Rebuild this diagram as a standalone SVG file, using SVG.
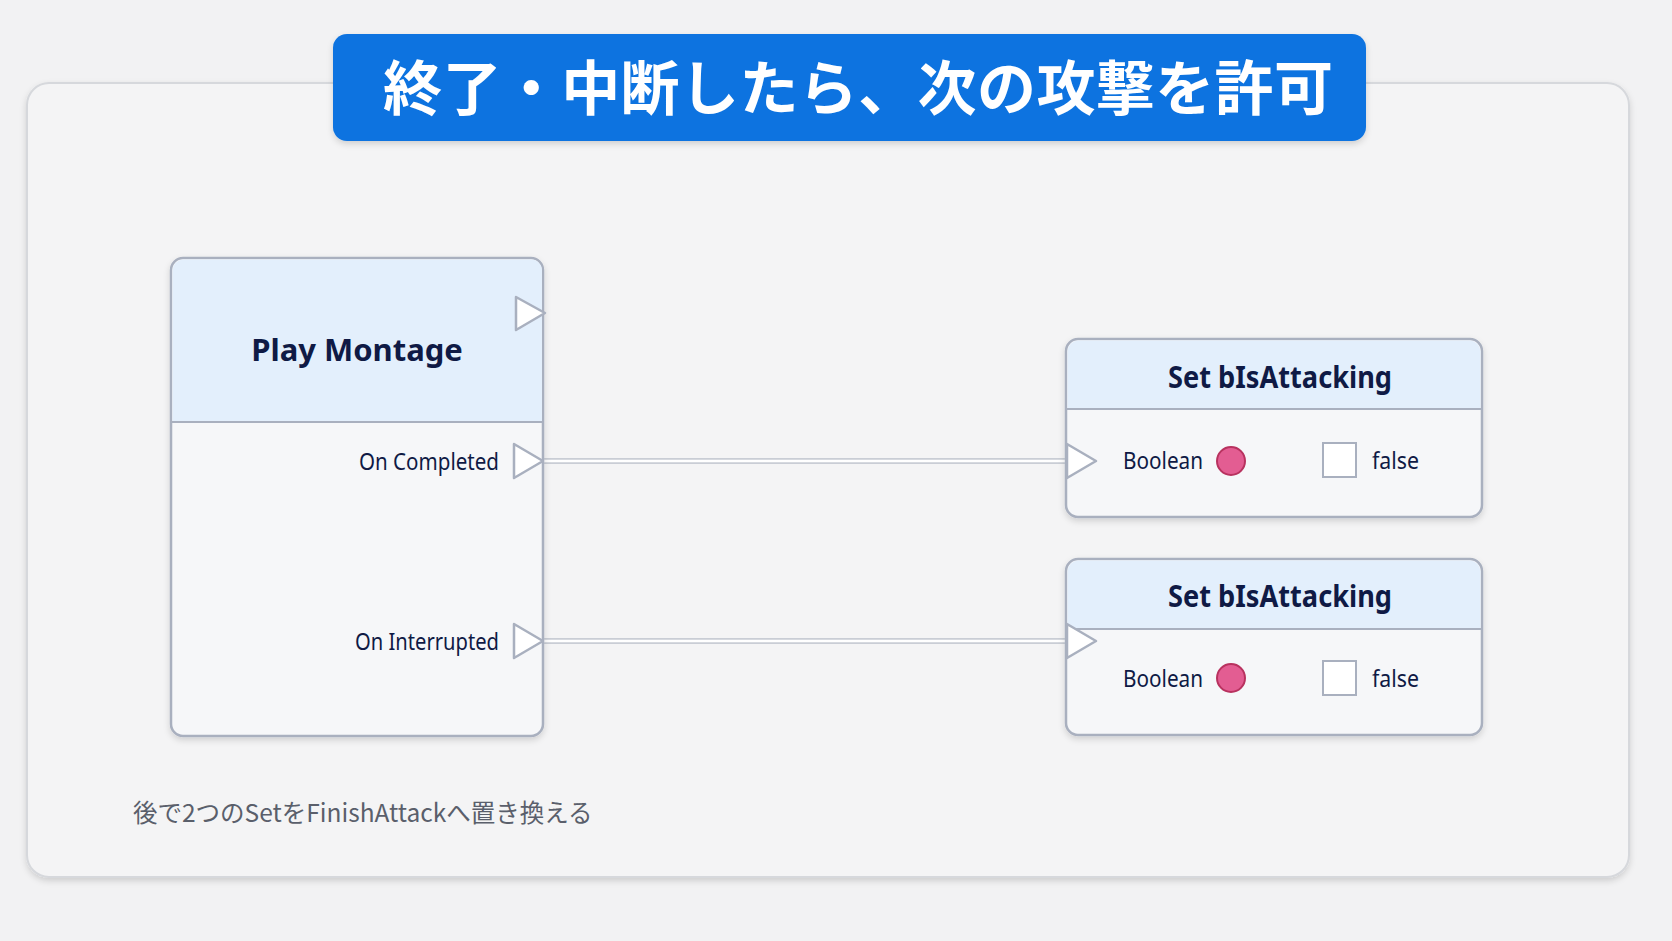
<svg xmlns="http://www.w3.org/2000/svg" width="1672" height="941" viewBox="0 0 1672 941">
<defs>
<style>
.node{fill:#f6f7f9;stroke:#a9b0bf;stroke-width:2.5}
.hdr{fill:#e3effc}
.sep{stroke:#a9b0bf;stroke-width:2}
.pin{fill:#ffffff;stroke:#a9b0bf;stroke-width:2.5;stroke-linejoin:round}
.t{font-family:"Noto Sans","Liberation Sans",sans-serif;fill:#0f1a45}
.title{font-size:31px;font-weight:bold;text-anchor:middle}
.lbl{font-size:24px}
.wire{stroke:#c9cdd5;stroke-width:6;fill:none}
.wire2{stroke:#ffffff;stroke-width:2.5;fill:none}
.dot{fill:#e35d92;stroke:#b8325f;stroke-width:2}
.cb{fill:#ffffff;stroke:#a9b0bf;stroke-width:2}
</style>
<filter id="sh" x="-10%" y="-10%" width="120%" height="130%"><feDropShadow dx="0" dy="3" stdDeviation="3" flood-color="#000" flood-opacity="0.15"/></filter>
</defs>
<rect width="1672" height="941" fill="#f2f2f3"/>
<rect x="27" y="83" width="1602" height="794" rx="22" fill="#f4f4f5" stroke="#d6d8dc" stroke-width="2" filter="url(#sh)"/>
<g id="banner">
<rect x="333" y="34" width="1033" height="107" rx="14" fill="#0a73e0" filter="url(#sh)"/>
<text x="858" y="110" font-family="'Noto Sans CJK JP',sans-serif" font-size="59" font-weight="bold" fill="#ffffff" text-anchor="middle" textLength="950" lengthAdjust="spacing">終了・中断したら、次の攻撃を許可</text>
</g>
<g id="connectors">
<path class="wire" d="M544 461H1068"/><path class="wire2" d="M544 461H1068"/>
<path class="wire" d="M544 641H1068"/><path class="wire2" d="M544 641H1068"/>
</g>
<g id="play-montage">
<rect class="node" x="171" y="258" width="372" height="478" rx="12" filter="url(#sh)"/>
<path class="hdr" d="M183 259.5H531A11 11 0 0 1 542 270.5V421H172.5V270.5A11 11 0 0 1 183 259.5Z"/>
<line class="sep" x1="172" y1="422" x2="542" y2="422"/>
<text class="t title" x="357" y="361">Play Montage</text>
<path class="pin" d="M516 297L545 313L516 330Z"/>
<text class="t lbl" x="359" y="470" textLength="140" lengthAdjust="spacingAndGlyphs">On Completed</text>
<path class="pin" d="M514 444L543 461L514 478Z"/>
<text class="t lbl" x="355" y="650" textLength="144" lengthAdjust="spacingAndGlyphs">On Interrupted</text>
<path class="pin" d="M514 624L543 641L514 658Z"/>
</g>
<g id="set-1">
<rect class="node" x="1066" y="339" width="416" height="178" rx="12" filter="url(#sh)"/>
<path class="hdr" d="M1078 340.5H1470A11 11 0 0 1 1480.5 351.5V409H1067.5V351.5A11 11 0 0 1 1078 340.5Z"/>
<line class="sep" x1="1067" y1="409" x2="1481" y2="409"/>
<text class="t title" x="1280" y="388" textLength="224" lengthAdjust="spacingAndGlyphs">Set bIsAttacking</text>
<path class="pin" d="M1067 444L1096 461L1067 478Z"/>
<text class="t lbl" x="1123" y="469" textLength="80" lengthAdjust="spacingAndGlyphs">Boolean</text>
<circle class="dot" cx="1231" cy="461" r="14"/>
<rect class="cb" x="1323" y="443" width="33" height="34"/>
<text class="t lbl" x="1372" y="469" textLength="47" lengthAdjust="spacingAndGlyphs">false</text>
</g>
<g id="set-2">
<rect class="node" x="1066" y="559" width="416" height="176" rx="12" filter="url(#sh)"/>
<path class="hdr" d="M1078 560.5H1470A11 11 0 0 1 1480.5 571.5V629H1067.5V571.5A11 11 0 0 1 1078 560.5Z"/>
<line class="sep" x1="1067" y1="629" x2="1481" y2="629"/>
<text class="t title" x="1280" y="607" textLength="224" lengthAdjust="spacingAndGlyphs">Set bIsAttacking</text>
<path class="pin" d="M1067 624L1096 641L1067 658Z"/>
<text class="t lbl" x="1123" y="687" textLength="80" lengthAdjust="spacingAndGlyphs">Boolean</text>
<circle class="dot" cx="1231" cy="678" r="14"/>
<rect class="cb" x="1323" y="661" width="33" height="34"/>
<text class="t lbl" x="1372" y="687" textLength="47" lengthAdjust="spacingAndGlyphs">false</text>
</g>
<text x="133" y="822" font-family="'Noto Sans CJK JP',sans-serif" font-size="24.5" fill="#5a5f6b">後で2つのSetをFinishAttackへ置き換える</text>
</svg>
